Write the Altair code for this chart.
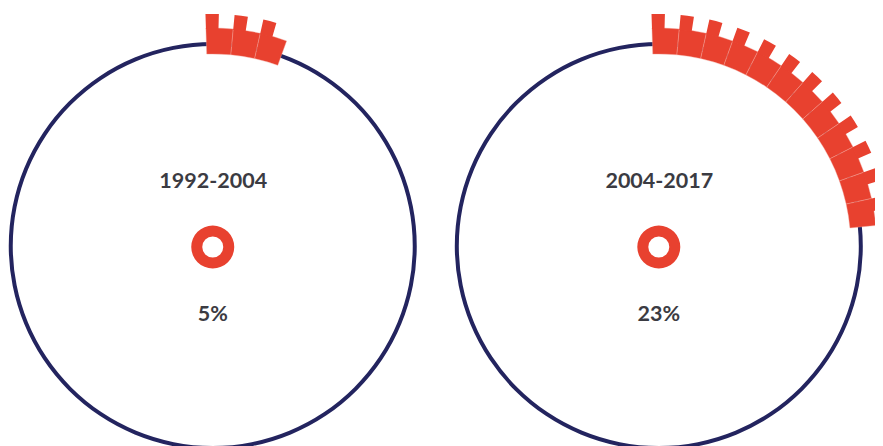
import math
import altair as alt
import pandas as pd

periods = ["1992-2004", "2004-2017"]
shares = [5, 23]          # percent
brick_unit = 2            # each brick stands for 2 %
labels = ["5%", "23%"]

RED = "#E8412F"
NAVY = "#23245F"
TXT = "#3B3B42"

centers_x = [204.75, 650.8]
center_y = 238

theta_scale = alt.Scale(domain=[0, 100], range=[0, 2 * math.pi])

layers = []
for period, share, label, cx in zip(periods, shares, labels, centers_x):
    n = math.ceil(share / brick_unit)
    starts = [k * brick_unit - 0.5 for k in range(n)]
    bricks = pd.DataFrame({
        "period": period,
        "start": starts,
        "end": [s + brick_unit for s in starts],
        "tab_end": [s + 0.92 for s in starts],
    })
    ring = pd.DataFrame({"period": [period], "a": [0], "b": [100]})
    txt = pd.DataFrame({"period": [period], "label": [label]})

    big = alt.Chart(ring).mark_arc(radius=204, radius2=200, color=NAVY).encode(
        theta=alt.Theta("a:Q", scale=theta_scale), theta2="b:Q",
        x=alt.value(cx), y=alt.value(center_y))
    base = alt.Chart(bricks).mark_arc(radius=218, radius2=192, color=RED,
                                      stroke="#F3A49B", strokeWidth=0.4).encode(
        theta=alt.Theta("start:Q", scale=theta_scale), theta2="end:Q",
        x=alt.value(cx), y=alt.value(center_y))
    tab = alt.Chart(bricks).mark_arc(radius=232, radius2=217, color=RED).encode(
        theta=alt.Theta("start:Q", scale=theta_scale), theta2="tab_end:Q",
        x=alt.value(cx), y=alt.value(center_y))
    small = alt.Chart(ring).mark_arc(radius=21.5, radius2=10.5, color=RED).encode(
        theta=alt.Theta("a:Q", scale=theta_scale), theta2="b:Q",
        x=alt.value(cx), y=alt.value(center_y + 1))
    title = alt.Chart(txt).mark_text(font="Lato", fontSize=21.5, fontWeight="bold",
                                     color=TXT, baseline="middle").encode(
        text="period:N", x=alt.value(cx + 0.5), y=alt.value(174))
    pct = alt.Chart(txt).mark_text(font="Lato", fontSize=21.5, fontWeight="bold",
                                   color=TXT, baseline="middle").encode(
        text="label:N", x=alt.value(cx), y=alt.value(307))
    layers += [big, base, tab, small, title, pct]

chart = alt.layer(*layers).resolve_scale(theta="shared").properties(
    width=867, height=438, padding=0, autosize=alt.AutoSizeParams(type="none")
).configure_view(stroke=None)

chart.save("out.html", embed_options={"renderer": "svg", "actions": False})
